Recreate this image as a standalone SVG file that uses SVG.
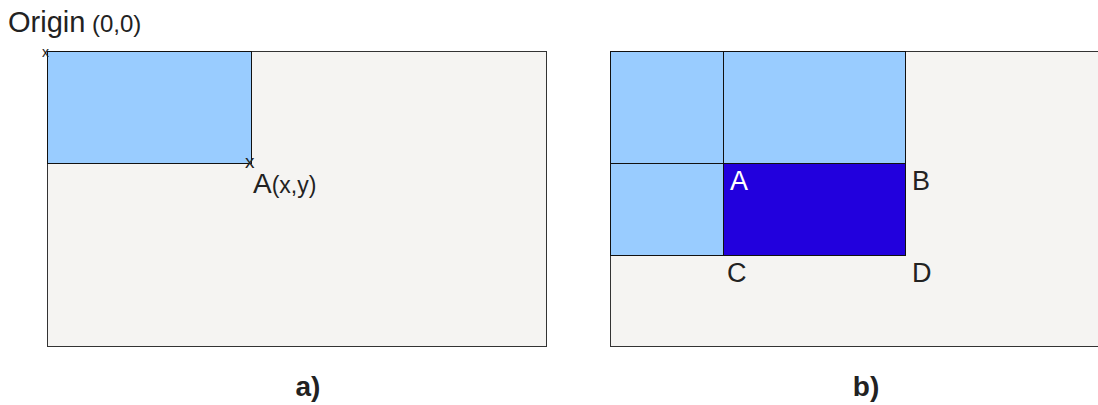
<svg xmlns="http://www.w3.org/2000/svg" width="1098" height="405" viewBox="0 0 1098 405">
<style>
text{font-family:"Liberation Sans",Arial,sans-serif;fill:#222}
.panel{fill:#f5f4f2;stroke:#333;stroke-width:1}
.lb{fill:#99ccff;stroke:#111;stroke-width:1}
.db{fill:#2200dd;stroke:#111;stroke-width:1}
.lbl{font-size:27px}
.cap{font-size:28px;font-weight:bold;text-anchor:middle}
</style>
<rect width="1098" height="405" fill="#fff"/>
<g id="panel-a">
<rect class="panel" x="47.5" y="51.5" width="499" height="295"/>
<rect class="lb" x="47.5" y="51.5" width="204" height="112"/>
<text x="42" y="57" font-size="14">x</text>
<text x="245" y="168" font-size="19">x</text>
<text x="253" y="193"><tspan font-size="28">A</tspan><tspan font-size="23">(x,y)</tspan></text>
</g>
<g id="origin">
<text x="8" y="32" font-size="29">Origin</text>
<text x="92" y="32" font-size="24">(0,0)</text>
</g>
<g id="panel-b">
<rect class="panel" x="610.5" y="51.5" width="499" height="295"/>
<rect class="lb" x="610.5" y="51.5" width="113" height="112"/>
<rect class="lb" x="723.5" y="51.5" width="182" height="112"/>
<rect class="lb" x="610.5" y="163.5" width="113" height="92"/>
<rect class="db" x="723.5" y="163.5" width="182" height="92"/>
<text class="lbl" x="730" y="190" style="fill:#fff">A</text>
<text class="lbl" x="912" y="190">B</text>
<text class="lbl" x="727" y="282">C</text>
<text class="lbl" x="912" y="282">D</text>
</g>
<g id="captions">
<text class="cap" x="308" y="396">a)</text>
<text class="cap" x="866" y="396">b)</text>
</g>
</svg>
